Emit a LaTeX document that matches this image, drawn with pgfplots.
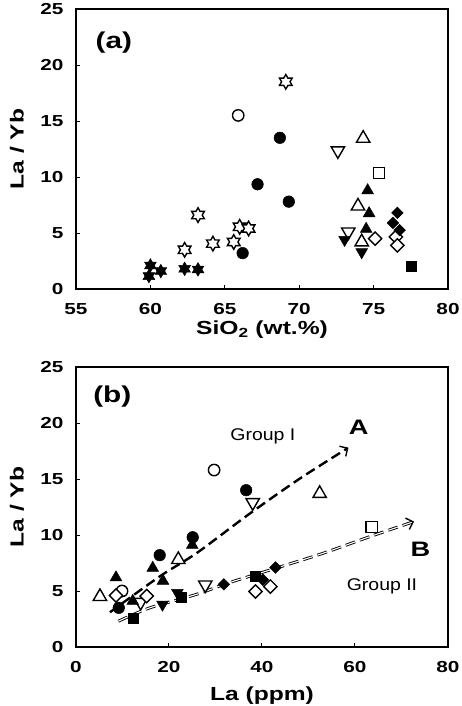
\documentclass[border=0pt]{standalone}
\usepackage{fontspec}
\setmainfont{Liberation Sans}
\newfontfamily\wide{Liberation Sans}[FakeStretch=1.3]
\newfontfamily\grp{Liberation Sans}[FakeStretch=1.15]
\usepackage{pgfplots}
\pgfplotsset{compat=1.18}
\usetikzlibrary{arrows.meta}

\pgfdeclareplotmark{hexstar}{%
  \pgfpathmoveto{\pgfpointpolar{90}{\pgfplotmarksize}}%
  \pgfpathlineto{\pgfpointpolar{120}{0.577\pgfplotmarksize}}%
  \pgfpathlineto{\pgfpointpolar{150}{\pgfplotmarksize}}%
  \pgfpathlineto{\pgfpointpolar{180}{0.577\pgfplotmarksize}}%
  \pgfpathlineto{\pgfpointpolar{210}{\pgfplotmarksize}}%
  \pgfpathlineto{\pgfpointpolar{240}{0.577\pgfplotmarksize}}%
  \pgfpathlineto{\pgfpointpolar{270}{\pgfplotmarksize}}%
  \pgfpathlineto{\pgfpointpolar{300}{0.577\pgfplotmarksize}}%
  \pgfpathlineto{\pgfpointpolar{330}{\pgfplotmarksize}}%
  \pgfpathlineto{\pgfpointpolar{0}{0.577\pgfplotmarksize}}%
  \pgfpathlineto{\pgfpointpolar{30}{\pgfplotmarksize}}%
  \pgfpathlineto{\pgfpointpolar{60}{0.577\pgfplotmarksize}}%
  \pgfpathclose
  \pgfusepathqfillstroke
}

\pgfplotsset{
  base/.style={
    scale only axis, width=372bp, height=280bp,
    ymin=0, ymax=25, ytick={0,5,...,25},
    tick align=inside, tick pos=left, major tick length=4bp,
    axis line style={line width=1.1bp},
    every tick/.style={black, line width=1bp},
    tick label style={font=\wide\bfseries\fontsize{16}{16}\selectfont, inner sep=0.5bp},
    /pgf/number format/assume math mode=true,
    xticklabel style={anchor=center, yshift=-20bp},
    yticklabel style={anchor=east, xshift=-12bp},
    label style={font=\wide\bfseries\fontsize{19}{19}\selectfont, inner sep=0.5bp},
    ylabel={La / Yb},
    ylabel style={at={(axis description cs:-0.159,0.5)}, anchor=center},
    clip=false,
  },
  oc/.style={only marks, mark=*, mark size=5.7bp, mark options={fill=white, draw=black, line width=1.4bp}},
  fc/.style={only marks, mark=*, mark size=5.8bp, mark options={fill=black, draw=black, line width=0.5bp}},
  otu/.style={only marks, mark=triangle*, mark size=7.7bp, mark options={fill=white, draw=black, line width=1.4bp}},
  ftu/.style={only marks, mark=triangle*, mark size=6.8bp, mark options={fill=black, draw=black, line width=0.5bp}},
  otd/.style={only marks, mark=triangle*, mark size=7.7bp, mark options={fill=white, draw=black, line width=1.4bp, rotate=180}},
  ftd/.style={only marks, mark=triangle*, mark size=6.8bp, mark options={fill=black, draw=black, line width=0.5bp, rotate=180}},
  osq/.style={only marks, mark=square*, mark size=5.6bp, mark options={fill=white, draw=black, line width=1.4bp}},
  fsq/.style={only marks, mark=square*, mark size=5bp, mark options={fill=black, draw=black, line width=0.5bp}},
  odm/.style={only marks, mark=square*, mark size=4.7bp, mark options={fill=white, draw=black, line width=1.4bp, rotate=45}},
  fdm/.style={only marks, mark=square*, mark size=4.1bp, mark options={fill=black, draw=black, line width=0.5bp, rotate=45}},
  ost/.style={only marks, mark=hexstar, mark size=7.3bp, mark options={fill=white, draw=black, line width=1.4bp}},
  fst/.style={only marks, mark=hexstar, mark size=6.8bp, mark options={fill=black, draw=black, line width=0.5bp}},
}

\begin{document}
\begin{tikzpicture}
\useasboundingbox (0,0) rectangle (462bp,-706bp);

% ---------------- panel (a)
\begin{axis}[base, at={(76bp,-9bp)}, anchor=north west,
  xmin=55, xmax=80, xtick={55,60,...,80},
  xlabel={SiO\textsubscript{2} (wt.\%)},
  xlabel style={at={(axis description cs:0.5,-0.145)}, anchor=center}]
\addplot[fst] coordinates {(60.0,2.1) (59.9,1.15) (60.7,1.6) (62.3,1.8) (63.2,1.75)};
\addplot[ost] coordinates {(62.3,3.5) (64.2,4.05) (63.2,6.6) (65.6,4.2) (66.0,5.55) (66.6,5.4) (69.1,18.5)};
\addplot[oc] coordinates {(65.9,15.5)};
\addplot[fc] coordinates {(68.7,13.5) (67.2,9.35) (69.3,7.8) (66.2,3.2)};
\addplot[otd] coordinates {(72.6,12.35) (73.3,5.1)};
\addplot[ftd] coordinates {(73.05,4.4) (74.2,3.3)};
\addplot[otu] coordinates {(74.3,13.45) (73.95,7.4) (74.2,4.2)};
\addplot[ftu] coordinates {(74.6,8.8) (74.7,6.75) (74.5,5.35)};
\addplot[osq] coordinates {(75.35,10.35)};
\addplot[fsq] coordinates {(77.5,2.0)};
\addplot[odm] coordinates {(75.1,4.5) (76.5,4.65) (76.6,3.9)};
\addplot[fdm] coordinates {(76.6,6.8) (76.3,5.9) (76.75,5.25)};
\node[font=\wide\bfseries\fontsize{23}{23}\selectfont] at (axis cs:57.55,22.0) {(a)};
\end{axis}

% ---------------- panel (b)
\begin{axis}[base, at={(76bp,-367bp)}, anchor=north west,
  xmin=0, xmax=80, xtick={0,20,...,80},
  xlabel={La (ppm)},
  xlabel style={at={(axis description cs:0.5,-0.175)}, anchor=center}]
\addplot[black, line width=2.4bp, dash pattern=on 10bp off 5bp, smooth,
  -{Straight Barb[length=6bp, width=12bp, line width=1.4bp]}]
  coordinates {(7.3,3.1) (18,6.3) (26,8.4) (37,11.8) (48,15.0) (58.6,17.8)};
\addplot[black, line width=0.9bp, double=white, double distance=1.1bp, dash pattern=on 10bp off 5bp, smooth,
  -{Straight Barb[length=6bp, width=12bp, line width=1.4bp]}]
  coordinates {(9.1,2.3) (15.9,3.5) (25.9,4.7) (33.0,5.75) (43.1,7.05) (53,8.35) (63.5,9.9) (72.7,11.2)};
\addplot[oc] coordinates {(29.7,15.8) (9.9,5.0)};
\addplot[fc] coordinates {(36.6,14.0) (25.1,9.8) (18.0,8.2) (9.2,3.5)};
\addplot[otd] coordinates {(38.0,12.9) (27.8,5.55) (13.9,4.0)};
\addplot[ftd] coordinates {(18.6,3.8) (21.8,4.85)};
\addplot[otu] coordinates {(52.4,13.7) (22.0,7.8) (5.15,4.5)};
\addplot[ftu] coordinates {(25.0,9.1) (16.5,7.05) (8.6,6.2) (18.7,5.9) (12.2,4.1)};
\addplot[osq] coordinates {(63.6,10.7)};
\addplot[fsq] coordinates {(12.3,2.55) (22.6,4.4) (38.6,6.3)};
\addplot[odm] coordinates {(8.6,4.6) (15.2,4.55) (38.6,4.95) (41.8,5.4)};
\addplot[fdm] coordinates {(31.8,5.6) (40.2,6.0) (42.9,7.1)};
\node[font=\wide\bfseries\fontsize{23}{23}\selectfont] at (axis cs:7.8,22.4) {(b)};
\node[font=\grp\fontsize{17}{17}\selectfont] at (axis cs:40.2,18.8) {Group I};
\node[font=\grp\fontsize{17}{17}\selectfont] at (axis cs:65.8,5.4) {Group II};
\node[font=\wide\bfseries\fontsize{21}{21}\selectfont] at (axis cs:60.8,19.65) {A};
\node[font=\wide\bfseries\fontsize{21}{21}\selectfont] at (axis cs:74.1,8.75) {B};
\end{axis}
\end{tikzpicture}
\end{document}
